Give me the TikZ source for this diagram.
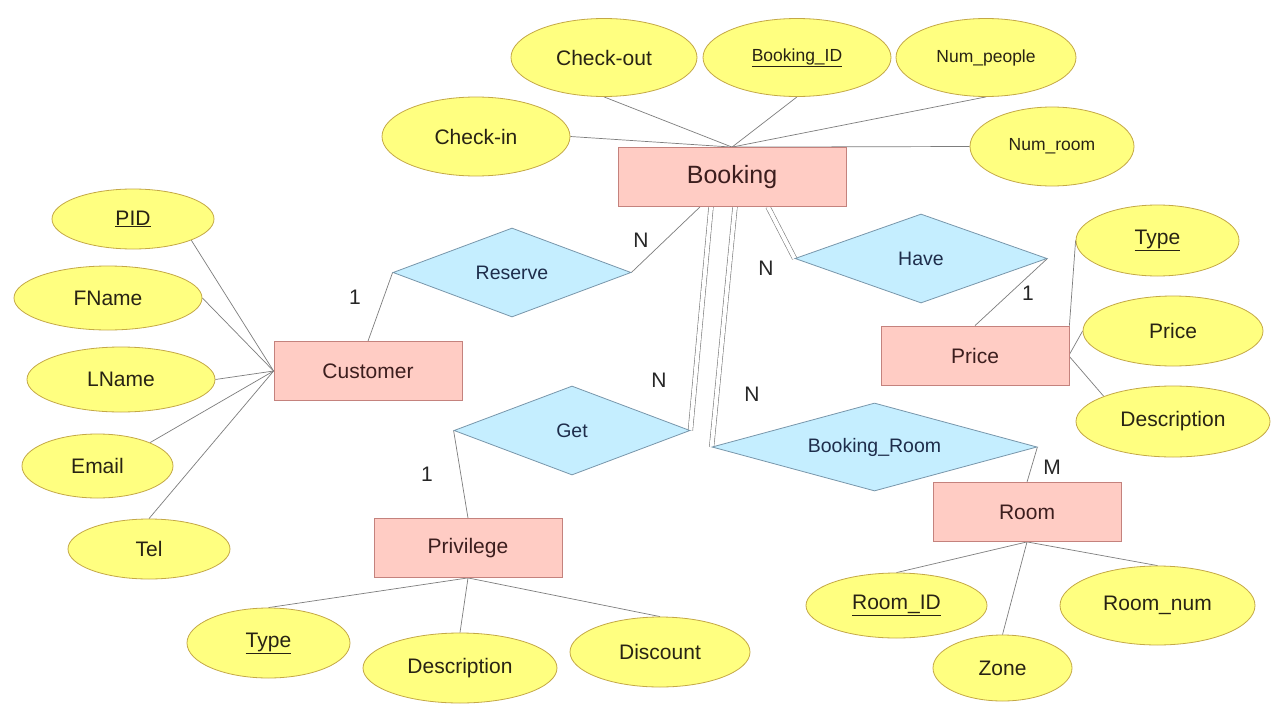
\documentclass[tikz,border=0pt]{standalone}
\usepackage{fontspec}
\setmainfont{Liberation Sans}
\usetikzlibrary{shapes.geometric,calc,backgrounds}
\definecolor{attrfill}{RGB}{255,255,128}
\definecolor{attrline}{RGB}{196,168,70}
\definecolor{entfill}{RGB}{255,204,196}
\definecolor{entline}{RGB}{196,130,125}
\definecolor{relfill}{RGB}{197,238,255}
\definecolor{relline}{RGB}{120,150,170}
\definecolor{conn}{RGB}{125,125,125}
\definecolor{enttext}{RGB}{60,30,30}
\definecolor{reltext}{RGB}{30,45,75}
\definecolor{attrtext}{RGB}{40,35,20}
\tikzset{
  attr/.style={ellipse, draw=attrline, fill=attrfill, line width=0.8pt, inner sep=0pt, text=attrtext, font=\fontsize{21}{24}\selectfont},
  attrsm/.style={attr, font=\fontsize{17.5}{20}\selectfont},
  ent/.style={rectangle, draw=entline, fill=entfill, line width=0.8pt, inner sep=0pt, minimum width=188pt, minimum height=59pt, text=enttext, font=\fontsize{21}{24}\selectfont},
  rel/.style={diamond, draw=relline, fill=relfill, line width=0.8pt, inner sep=0pt, text=reltext, font=\fontsize{19.5}{22}\selectfont},
  conn/.style={draw=conn, line width=0.7pt},
  dconn/.style={draw=conn, line width=0.6pt, double=white, double distance=4pt},
  card/.style={font=\fontsize{21}{24}\selectfont, text=black!85, inner sep=0pt}
}
\begin{document}
\begin{tikzpicture}[x=1pt,y=-1pt]
\useasboundingbox (0,0) rectangle (1280,720);

% entities
\node[ent, minimum width=228pt, minimum height=59pt, font=\fontsize{25}{28}\selectfont] (booking) at (732,177) {Booking};
\node[ent] (customer) at (368,371) {Customer};
\node[ent] (privilege) at (468,548) {Privilege};
\node[ent] (price) at (975,355.5) {Price};
\node[ent] (room) at (1027,512) {Room};

% relationships
\node[rel, aspect=2.67, minimum width=238pt, minimum height=89pt] (reserve) at (512,272.5) {Reserve};
\node[rel, aspect=2.65, minimum width=236pt, minimum height=89pt] (get) at (572,430.5) {Get};
\node[rel, aspect=2.83, minimum width=252pt, minimum height=89pt] (have) at (921,258.5) {Have};
\node[rel, aspect=3.69, minimum width=325pt, minimum height=88pt] (broom) at (874.5,447) {Booking\_Room};

% attributes of Booking
\node[attr, minimum width=186pt, minimum height=78pt] (checkout) at (604,57.5) {Check-out};
\node[attrsm, minimum width=188pt, minimum height=78pt] (bookingid) at (797,57.5) {\underline{Booking\_ID}};
\node[attrsm, minimum width=180pt, minimum height=78pt] (numpeople) at (986,57.5) {Num\_people};
\node[attrsm, minimum width=164pt, minimum height=79pt] (numroom) at (1052,146.5) {Num\_room};
\node[attr, minimum width=188pt, minimum height=79pt] (checkin) at (476,136.5) {Check-in};

% attributes of Customer
\node[attr, minimum width=162pt, minimum height=60pt] (pid) at (133,219) {\underline{PID}};
\node[attr, minimum width=188pt, minimum height=64pt] (fname) at (108,298) {FName};
\node[attr, minimum width=188pt, minimum height=65pt] (lname) at (121,379.5) {LName};
\node[attr, minimum width=151pt, minimum height=64pt] (email) at (97.5,466) {Email};
\node[attr, minimum width=162pt, minimum height=60pt] (tel) at (149,549) {Tel};

% attributes of Privilege
\node[attr, minimum width=163pt, minimum height=70pt] (ptype) at (268.5,643) {\underline{Type}};
\node[attr, minimum width=194pt, minimum height=70pt] (pdesc) at (460,668) {Description};
\node[attr, minimum width=180pt, minimum height=70pt] (discount) at (660,652) {Discount};

% attributes of Price
\node[attr, minimum width=163pt, minimum height=71pt] (prtype) at (1157.5,240.5) {\underline{Type}};
\node[attr, minimum width=180pt, minimum height=70pt] (prprice) at (1173,331) {Price};
\node[attr, minimum width=194pt, minimum height=71pt] (prdesc) at (1173,421.5) {Description};

% attributes of Room
\node[attr, minimum width=181pt, minimum height=65pt] (roomid) at (896.5,605.5) {\underline{Room\_ID}};
\node[attr, minimum width=139pt, minimum height=66pt] (zone) at (1002.5,668) {Zone};
\node[attr, minimum width=195pt, minimum height=79pt] (roomnum) at (1157.5,605.5) {Room\_num};

% connectors
\begin{scope}[on background layer]
\fill[white] (0,0) rectangle (1280,720);
\draw[conn] (checkin.east) -- (booking.north);
\draw[conn] (checkout.south) -- (booking.north);
\draw[conn] (bookingid.south) -- (booking.north);
\draw[conn] (numpeople.south) -- (booking.north);
\draw[conn] (numroom.west) -- (booking.north);

\draw[conn] (pid.-20) -- (customer.west);
\draw[conn] (fname.east) -- (customer.west);
\draw[conn] (lname.east) -- (customer.west);
\draw[conn] (email.24) -- (customer.west);
\draw[conn] (tel.north) -- (customer.west);

\draw[conn] (privilege.south) -- (ptype.north);
\draw[conn] (privilege.south) -- (pdesc.north);
\draw[conn] (privilege.south) -- (discount.north);

\draw[conn] (price.north east) -- (prtype.west);
\draw[conn] ([yshift=1pt]price.east) -- (prprice.west);
\draw[conn] ([yshift=-1pt]price.east) -- (prdesc.160);

\draw[conn] (room.south) -- (roomid.north);
\draw[conn] (room.south) -- (zone.north);
\draw[conn] (room.south) -- (roomnum.north);

\draw[conn] (customer.north) -- (reserve.west);
\draw[conn] (reserve.east) -- ([xshift=-32pt]booking.south);
\draw[conn] (privilege.north) -- (get.west);
\draw[conn] (have.east) -- (price.north);
\draw[conn] (room.north) -- (broom.east);

\draw[dconn] ([xshift=-21pt]booking.south) -- (get.east);
\draw[dconn] ([xshift=3pt]booking.south) -- (broom.west);
\draw[dconn] ([xshift=36pt]booking.south) -- (have.west);
\end{scope}

% cardinalities
\node[card] (c1) at (355,297) {1};
\node[card] (c2) at (641,240) {N};
\node[card] (c3) at (659,380) {N};
\node[card] (c4) at (427,474) {1};
\node[card] (c5) at (766,268) {N};
\node[card] (c6) at (1028,293) {1};
\node[card] (c7) at (752,394) {N};
\node[card] (c8) at (1052,467) {M};
\end{tikzpicture}
\end{document}
